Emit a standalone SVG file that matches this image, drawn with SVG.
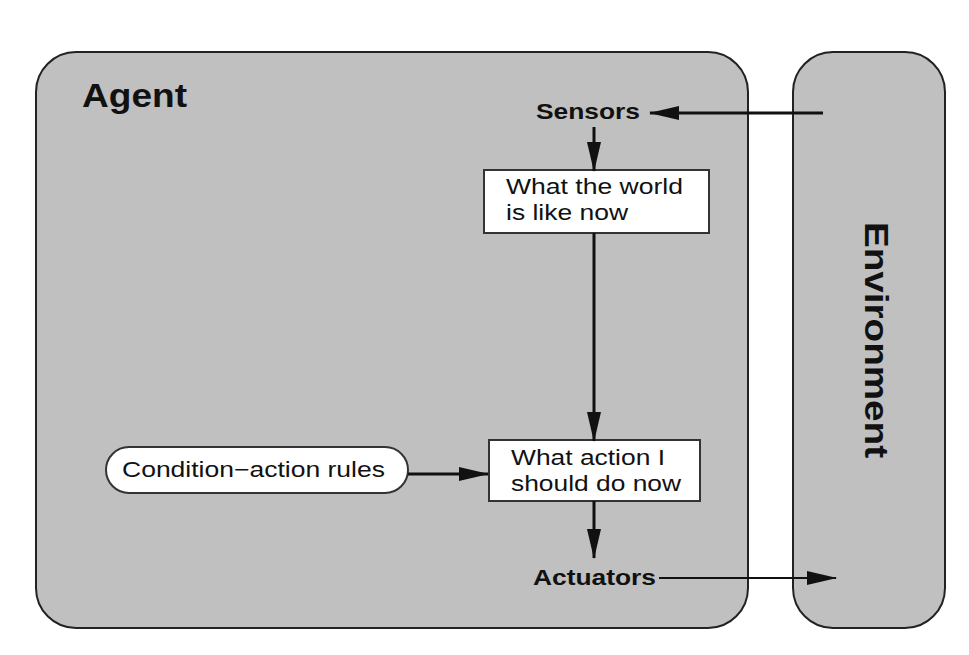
<svg xmlns="http://www.w3.org/2000/svg" width="969" height="655" viewBox="0 0 969 655">
<style>
.panel{fill:#c0c0c0;stroke:#222;stroke-width:2}
.box{fill:#fff;stroke:#333;stroke-width:2}
.lbl{font-family:"Liberation Sans",Arial,sans-serif;font-size:22px;fill:#111}
.bold{font-weight:bold}
</style>
<defs>
<marker id="ahL" markerWidth="30" markerHeight="14" refX="29" refY="7" orient="auto" markerUnits="userSpaceOnUse" viewBox="0 0 30 14">
<path d="M0,0 L30,7 L0,14 Z" fill="#111"/>
</marker>
</defs>
<rect width="969" height="655" fill="#fff"/>
<g id="agent">
<rect class="panel" x="36" y="52" width="712" height="576" rx="40" ry="40"/>
<text class="lbl bold" x="82" y="107" style="font-size:33px" textLength="105" lengthAdjust="spacingAndGlyphs">Agent</text>
</g>
<g id="environment">
<rect class="panel" x="793" y="52" width="152" height="576" rx="40" ry="40"/>
<text class="lbl bold" transform="translate(865,340) rotate(90)" text-anchor="middle" style="font-size:33px" textLength="236" lengthAdjust="spacingAndGlyphs">Environment</text>
</g>
<g id="sensors"><text class="lbl bold" x="536" y="119" textLength="104" lengthAdjust="spacingAndGlyphs">Sensors</text></g>
<g id="world">
<rect class="box" x="484" y="170" width="225" height="63"/>
<text class="lbl" x="506" y="194" textLength="177" lengthAdjust="spacingAndGlyphs">What the world</text>
<text class="lbl" x="506" y="220" textLength="122" lengthAdjust="spacingAndGlyphs">is like now</text>
</g>
<g id="action">
<rect class="box" x="489" y="440" width="211" height="61"/>
<text class="lbl" x="511" y="465" textLength="154" lengthAdjust="spacingAndGlyphs">What action I</text>
<text class="lbl" x="511" y="491" textLength="170" lengthAdjust="spacingAndGlyphs">should do now</text>
</g>
<g id="rules">
<rect class="box" x="106" y="447" width="302" height="46" rx="23" ry="23"/>
<text class="lbl" x="122" y="477" textLength="263" lengthAdjust="spacingAndGlyphs">Condition−action rules</text>
</g>
<g id="actuators"><text class="lbl bold" x="533" y="585" textLength="123" lengthAdjust="spacingAndGlyphs">Actuators</text></g>
<g id="connectors">
<line x1="823" y1="113" x2="650" y2="113" stroke="#111" stroke-width="3" marker-end="url(#ahL)"/>
<line x1="594" y1="127" x2="594" y2="171" stroke="#111" stroke-width="3" marker-end="url(#ahL)"/>
<line x1="594" y1="233" x2="594" y2="441" stroke="#111" stroke-width="3" marker-end="url(#ahL)"/>
<line x1="408" y1="474" x2="488" y2="474" stroke="#111" stroke-width="3" marker-end="url(#ahL)"/>
<line x1="594" y1="501" x2="594" y2="558" stroke="#111" stroke-width="3" marker-end="url(#ahL)"/>
<line x1="659" y1="578" x2="836" y2="578" stroke="#111" stroke-width="2" marker-end="url(#ahL)"/>
</g>
</svg>
